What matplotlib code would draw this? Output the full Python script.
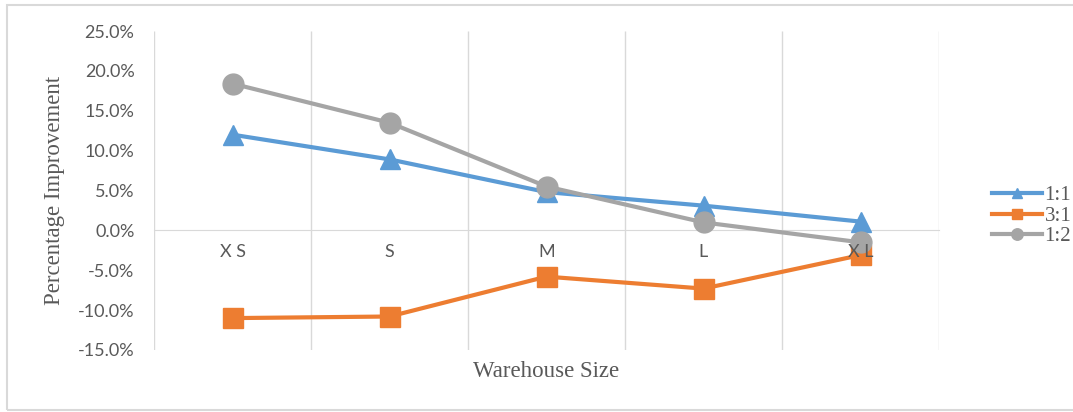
import matplotlib
matplotlib.use("Agg")
import matplotlib.pyplot as plt
from matplotlib.patches import Rectangle
from matplotlib.ticker import FuncFormatter

sizes = ["X S", "S", "M", "L", "X L"]
ratio_1_1 = [12.0, 8.9, 4.8, 3.1, 1.1]
ratio_3_1 = [-11.0, -10.8, -5.8, -7.3, -3.1]
ratio_1_2 = [18.4, 13.5, 5.5, 1.0, -1.5]

fig = plt.figure(figsize=(10.73, 4.12), dpi=100)
ax = fig.add_axes([154 / 1073, 1 - 350 / 412, 785 / 1073, 319 / 412])

# outer chart border
fig.patches.append(Rectangle((7 / 1073, 2 / 412), 1.1, 405 / 412, transform=fig.transFigure,
                             fill=False, edgecolor="#d9d9d9", linewidth=1.5))

x = range(len(sizes))
# category boundary gridlines, kept under the data
ax.vlines([i - 0.5 for i in range(len(sizes) + 1)], -15, 25, color="#d9d9d9", lw=1, zorder=0)

ax.plot(x, ratio_1_1, color="#5B9BD5", lw=3, marker="^", ms=14, label="1:1", zorder=3)
ax.plot(x, ratio_3_1, color="#ED7D31", lw=3, marker="s", ms=14, label="3:1", zorder=3)
ax.plot(x, ratio_1_2, color="#A5A5A5", lw=3, marker="o", ms=15, label="1:2", zorder=3)

ax.set_xlim(-0.5, len(sizes) - 0.5)
ax.set_ylim(-15, 25)
ax.set_yticks(range(-15, 26, 5))
ax.yaxis.set_major_formatter(FuncFormatter(lambda v, p: f"{v:.1f}%"))
ax.set_xticks(list(x))
ax.set_xticklabels(sizes)
ax.xaxis.set_zorder(4)

for s in ["top", "right", "left"]:
    ax.spines[s].set_visible(False)
ax.spines["bottom"].set_position(("data", 0))
ax.spines["bottom"].set_color("#d9d9d9")
ax.spines["bottom"].set_zorder(1)
ax.tick_params(axis="both", which="both", length=0, labelcolor="#595959")
ax.tick_params(axis="x", pad=10)
ax.tick_params(axis="y", pad=14)
for lab in ax.get_xticklabels() + ax.get_yticklabels():
    lab.set_family("Lato")
    lab.set_fontsize(13)

ax.set_ylabel("Percentage Improvement", family="Liberation Serif", fontsize=16.5, color="#595959", labelpad=9)
ax.text(0.5, -0.035, "Warehouse Size", transform=ax.transAxes, ha="center", va="top",
        family="Liberation Serif", fontsize=16.5, color="#595959")

leg = fig.legend(loc="center left", bbox_to_anchor=(982 / 1073, 1 - 216 / 412), frameon=False,
                 prop={"family": "Liberation Serif", "size": 15}, handlelength=2.4,
                 handletextpad=0.1, labelspacing=0.05, markerscale=0.55, borderpad=0)
for t in leg.get_texts():
    t.set_color("#595959")

fig.savefig("out.png", dpi=100)
